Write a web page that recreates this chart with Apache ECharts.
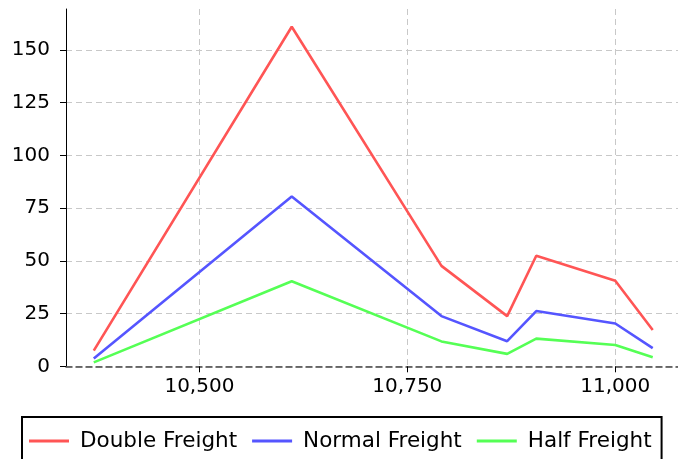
<!DOCTYPE html>
<html>
<head>
<meta charset="utf-8">
<script src="https://cdn.jsdelivr.net/npm/echarts@6/dist/echarts.min.js"></script>
<style>
  html, body { margin: 0; padding: 0; background: #fff; }
  #chart { width: 678px; height: 459px; }
</style>
</head>
<body>
<div id="chart"></div>
<script>
const distances = [10373, 10611, 10791, 10870, 10905, 11000, 11045]
const doubleFreight = [7.4, 161, 47.6, 23.8, 52.4, 40.6, 17.2]
const normalFreight = [3.7, 80.5, 23.8, 11.9, 26.2, 20.3, 8.6]
const halfFreight = [1.85, 40.3, 11.8, 5.9, 13.1, 10.1, 4.3]
const xTicks = [10500, 10750, 11000]
const yTicks = [0, 25, 50, 75, 100, 125, 150]
const seriesNames = ['Double Freight', 'Normal Freight', 'Half Freight']
const seriesColors = ['#ff5555', '#5555ff', '#55ff55']

const pair = vals => distances.map((d, i) => [d, vals[i]])
const font = 'DejaVu Sans'

const chart = echarts.init(document.getElementById('chart'))

const option = {
  animation: false,
  textStyle: { fontFamily: font },
  grid: { left: 66, top: 9, right: 0, bottom: 92.7 },
  legend: {
    left: 22, top: 417,
    padding: [13, 10, 30, 7],
    borderColor: '#000', borderWidth: 2,
    itemGap: 15,
    itemWidth: 40, itemHeight: 12,
    icon: 'path://M0,4.6 L40,4.6 L40,7.4 L0,7.4 Z',
    textStyle: { fontSize: 21.5, color: '#000', fontFamily: font, padding: [0, 0, 0, 6] },
    data: seriesNames
  },
  xAxis: {
    type: 'value',
    min: 10339.6, max: 11075.4,
    axisLine: { show: true, onZero: false, lineStyle: { color: '#444', type: [6, 4], width: 1.5 } },
    axisTick: { show: true, length: 6, customValues: xTicks, lineStyle: { color: '#000' } },
    axisLabel: {
      fontSize: 20, color: '#000', margin: 10, fontFamily: font,
      customValues: xTicks,
      formatter: v => v.toLocaleString('en-US')
    },
    splitLine: { show: true, lineStyle: { color: '#c8c8c8', type: [6, 4] } }
  },
  yAxis: {
    type: 'value',
    min: 0, max: 169.4,
    axisLine: { show: true, lineStyle: { color: '#000' } },
    axisTick: { show: true, length: 6, customValues: yTicks, lineStyle: { color: '#000' } },
    axisLabel: {
      fontSize: 20, color: '#000', margin: 16, fontFamily: font,
      customValues: yTicks
    },
    splitLine: { show: true, lineStyle: { color: '#c8c8c8', type: [6, 4] } }
  },
  series: [doubleFreight, normalFreight, halfFreight].map((vals, i) => ({
    name: seriesNames[i],
    type: 'line',
    data: pair(vals),
    symbol: 'none',
    color: seriesColors[i],
    lineStyle: { width: 2.6, color: seriesColors[i] }
  }))
}

chart.setOption(option)
</script>
</body>
</html>
